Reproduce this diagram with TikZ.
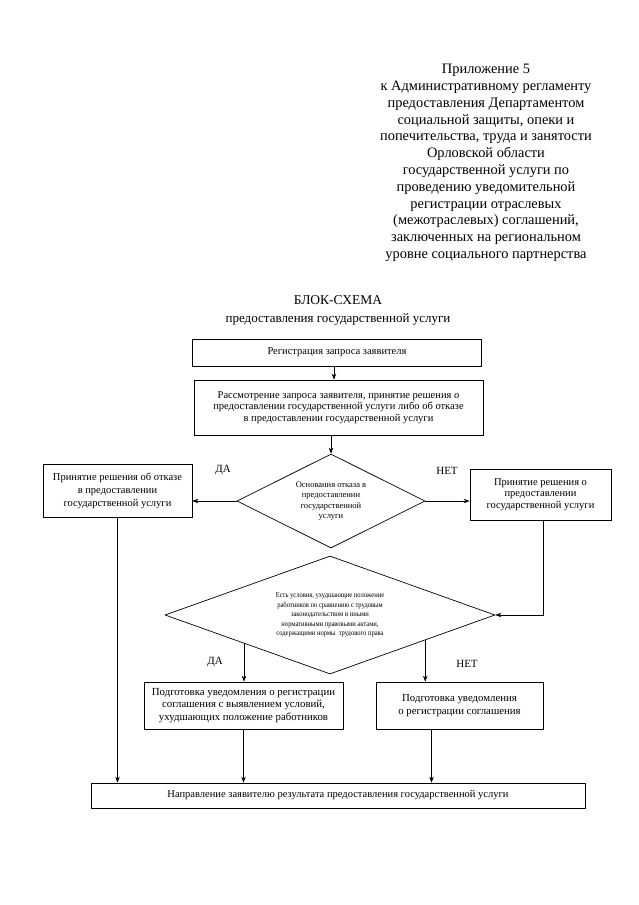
\documentclass[tikz,border=0pt]{standalone}
\usepackage{fontspec}
\setmainfont{Liberation Serif}
\newfontfamily\narrowserif[FakeStretch=0.87]{Liberation Serif}
\usetikzlibrary{arrows.meta,shapes.geometric,calc}
\begin{document}
\begin{tikzpicture}[x=1pt,y=-1pt,
  box/.style={draw,line width=0.7pt,inner sep=0pt,align=center,font=\fontsize{10.5}{11.7}\selectfont},
  dia/.style={draw,diamond,line width=0.7pt,inner sep=0pt,align=center},
  arr/.style={-{Stealth[length=6pt,width=4.5pt]},line width=0.6pt},
  lbl/.style={font=\fontsize{11}{12}\selectfont}]
\useasboundingbox (0,0) rectangle (639,905);
\fill[white] (0,0) rectangle (639,905);

\node (hdr) at (486,163) [align=center,font=\fontsize{14.4}{16.8}\selectfont]
 {Приложение 5\\к Административному регламенту\\предоставления Департаментом\\социальной защиты, опеки и\\попечительства, труда и занятости\\Орловской области\\государственной услуги по\\проведению уведомительной\\регистрации отраслевых\\(межотраслевых) соглашений,\\заключенных на региональном\\уровне социального партнерства};

\node (t1) at (338,300) [font=\fontsize{13.5}{15}\selectfont] {БЛОК-СХЕМА};
\node (t2) at (338,319) [font=\fontsize{13}{15}\selectfont] {предоставления государственной услуги};

\node (reg) [box,minimum width=289,minimum height=27] at (337,352.5) {Регистрация запроса заявителя};
\node (rev) [box,minimum width=289,minimum height=55] at (338.5,407.5)
 {Рассмотрение запроса заявителя, принятие решения о\\предоставлении государственной услуги либо об отказе\\в предоставлении государственной услуги};

\node (d1) [dia,aspect=2,minimum width=188,minimum height=94,font=\fontsize{8.5}{10.3}\selectfont] at (331,501)
 {Основания отказа в\\предоставлении\\государственной\\услуги};

\node (refuse) [box,minimum width=149,minimum height=53,font=\fontsize{10.5}{13}\selectfont] at (117.5,490.5)
 {Принятие решения об отказе\\в предоставлении\\государственной услуги};
\node (grant) [box,minimum width=141,minimum height=51] at (540.5,494.5)
 {Принятие решения о\\предоставлении\\государственной услуги};

\node (l1) [lbl] at (223,470) {ДА};
\node (l2) [lbl] at (447,471) {НЕТ};

\node (d2) [dia,aspect=2.8,minimum width=330,minimum height=118,font=\narrowserif\fontsize{7.5}{9.4}\selectfont] at (330,615)
 {Есть условия, ухудшающие положение\\работников по сравнению с трудовым\\законодательством и иными\\нормативными правовыми актами,\\содержащими нормы\ \ трудового права};

\node (l3) [lbl] at (215,662) {ДА};
\node (l4) [lbl] at (467,664) {НЕТ};

\node (yes) [box,minimum width=199,minimum height=47,font=\fontsize{10.8}{12.6}\selectfont] at (243.5,705.5)
 {Подготовка уведомления о регистрации\\соглашения с выявлением условий,\\ухудшающих положение работников};
\node (no) [box,minimum width=167,minimum height=47,font=\fontsize{10.8}{12.6}\selectfont] at (459.5,705.5)
 {Подготовка уведомления\\о регистрации соглашения};

\node (fin) [box,minimum width=494,minimum height=25] at (338,795.5)
 {Направление заявителю результата предоставления государственной услуги};

\draw[arr] ([xshift=-3]reg.south) -- ([xshift=-3]reg.south |- rev.north);
\draw[arr] (d1.north |- rev.south) -- (d1.north);
\draw[arr] (d1.west) -- (d1.west -| refuse.east);
\draw[arr] (d1.east) -- (d1.east -| grant.west);
\draw[arr] ([xshift=2.5]grant.south) |- (d2.east);
\coordinate (pL) at ($(d2.south)!0.52!(d2.west)$);
\coordinate (pR) at ($(d2.south)!0.576!(d2.east)$);
\draw[arr] (pL) -- (pL |- yes.north);
\draw[arr] (pR) -- (pR |- no.north);
\draw[arr] (refuse.south) -- (refuse.south |- fin.north);
\draw[arr] (yes.south) -- (yes.south |- fin.north);
\draw[arr] ([xshift=-28]no.south) -- ([xshift=-28]no.south |- fin.north);
\end{tikzpicture}
\end{document}
